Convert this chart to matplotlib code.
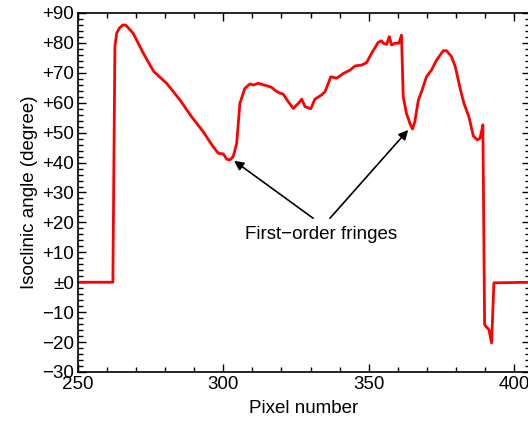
import matplotlib.pyplot as plt
from matplotlib.ticker import MultipleLocator

plt.rcParams['font.family'] = ['Liberation Sans', 'DejaVu Sans']
plt.rcParams['font.size'] = 13.5

# isoclinic angle along the scan line
pixel = [250, 262.0, 262.7, 263.3, 264.2, 265.4, 266.5, 269.0, 272.5, 276.1,
         280.5, 285.1, 289.1, 293.1, 296.5, 298.3, 300.0, 301.2, 302.3, 303.4,
         304.6, 305.7, 307.4, 309.2, 310.3, 312.0, 314.5, 316.5, 318.0, 319.5,
         320.6, 322.3, 324.1, 325.8, 327.0, 328.1, 330.1, 331.5, 333.8, 335.0,
         337.0, 339.0, 341.3, 343.6, 345.3, 347.6, 349.3, 351.0, 353.3, 354.4,
         355.0, 356.2, 357.1, 357.9, 359.0, 360.4, 361.3, 361.9, 363.0, 364.2,
         365.1, 365.9, 367.1, 368.2, 369.9, 371.6, 373.4, 375.7, 376.8, 378.5,
         379.8, 381.6, 382.8, 384.5, 386.0, 387.4, 388.3, 389.1, 389.3, 389.9,
         391.4, 392.3, 393.1, 406]
angle = [0, 0, 78.7, 83.2, 84.9, 86.0, 85.9, 83.2, 76.5, 70.4,
         66.5, 60.9, 55.3, 50.3, 45.3, 43.1, 42.9, 41.1, 40.9, 42.0,
         46.4, 59.8, 64.8, 66.3, 65.9, 66.5, 65.8, 65.2, 64.0, 63.2,
         62.9, 60.4, 58.1, 59.8, 61.2, 58.7, 58.0, 61.2, 62.6, 63.7,
         68.7, 68.2, 69.8, 70.9, 72.3, 72.6, 73.4, 76.5, 80.2, 80.7,
         79.9, 79.5, 82.1, 79.3, 79.9, 79.9, 82.6, 62.0, 56.5, 53.1,
         51.2, 53.7, 60.9, 63.7, 68.7, 70.9, 74.3, 77.4, 77.4, 75.4,
         72.1, 64.3, 59.8, 55.3, 48.9, 47.6, 48.1, 51.5, 52.6, -14.2,
         -15.9, -20.3, -0.2, 0]

y_ticks = [-30, -20, -10, 0, 10, 20, 30, 40, 50, 60, 70, 80, 90]
y_labels = ['\u221230', '\u221220', '\u221210', '\u00b10', '+10', '+20', '+30',
            '+40', '+50', '+60', '+70', '+80', '+90']
x_ticks = [250, 300, 350, 400]

# arrow tips at the two first-order fringes, and where the arrows start
fringe_tips = [(303.7, 40.6), (363.6, 50.9)]
arrow_tails = [(330.9, 21.4), (336.7, 21.4)]

fig = plt.figure(figsize=(5.28, 4.26), dpi=100)
ax = fig.add_axes([0.1477, 0.1268, 0.856, 0.8427])

ax.plot(pixel, angle, color='#ff0000', lw=2.0)

ax.set_xlim(250, 405.5)
ax.set_ylim(-30, 90)
ax.set_xticks(x_ticks)
ax.xaxis.set_minor_locator(MultipleLocator(10))
ax.set_yticks(y_ticks)
ax.set_yticklabels(y_labels)
ax.yaxis.set_minor_locator(MultipleLocator(2))
ax.tick_params(which='both', direction='in', top=True, right=True, width=1)
ax.tick_params(which='major', length=6, labelsize=13.5, pad=3)
ax.tick_params(which='minor', length=3.5)
for s in ax.spines.values():
    s.set_linewidth(1.2)

ax.set_xlabel('Pixel number', fontsize=13.5, labelpad=5)
ax.set_ylabel('Isoclinic angle (degree)', fontsize=13.5, labelpad=3)

ax.text(333.6, 15.8, 'First\u2212order fringes', ha='center', va='center', fontsize=13.5)
for tip, tail in zip(fringe_tips, arrow_tails):
    ax.annotate('', xy=tip, xytext=tail,
                arrowprops=dict(arrowstyle='-|>', color='black', lw=1.2,
                                mutation_scale=14, shrinkA=0, shrinkB=0))

fig.savefig('out.png', dpi=100)
